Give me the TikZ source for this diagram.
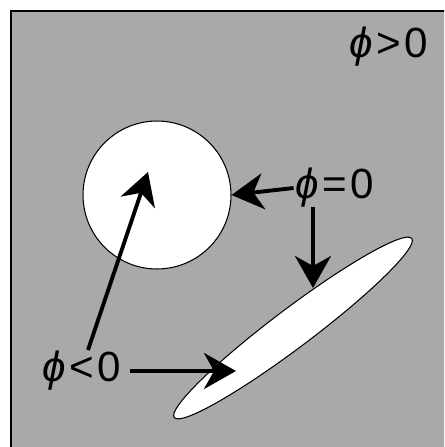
\documentclass[tikz,border=0pt]{standalone}
\usepackage{fontspec}
\setmainfont{Liberation Sans}
\usetikzlibrary{arrows.meta,positioning,shapes.geometric}
\definecolor{fieldgray}{RGB}{169,169,169}

\begin{document}
\begin{tikzpicture}[
    x=0.02cm, y=-0.02cm,
    region/.style={draw=black, line width=0.6pt, fill=white},
    line/.style={-{Stealth[length=0.64cm, width=0.72cm, inset=0.2cm]}, line width=2.2pt, draw=black},
    labelstyle/.style={font=\fontsize{24}{26}\selectfont, inner sep=0pt}
]
    \useasboundingbox (0,0) rectangle (444,447);
    % Background field
    \begin{scope}
        \clip (0,0) rectangle (444,447);
        \draw[fill=fieldgray, line width=1.6pt] (11,11) rectangle (460,460);
    \end{scope}

    % Regions where phi < 0
    \node[region, circle, minimum size=2.96cm, inner sep=0pt] (disk) at (157,195) {};
    \node[region, ellipse, rotate=37, minimum width=5.95cm, minimum height=0.78cm, inner sep=0pt] (blob) at (293,328) {};

    % Labels
    \node[labelstyle] (phipos) at (389,47) {\textit{ϕ}\kern2pt>\kern2pt0};
    \node[labelstyle] (phizero) at (335,188) {\textit{ϕ}\kern2pt=\kern2pt0};
    \node[labelstyle] (phineg) at (82,371) {\textit{ϕ}\kern2pt<\kern2pt0};

    % Arrow ends
    \coordinate (zerodown) at (313,207);
    \coordinate (blobedge) at (313,288);
    \coordinate (negup) at (88,350);
    \coordinate (diskin) at (148,172);
    \coordinate (blobin) at (236,371);

    % Connections
    \draw[line] ([xshift=-1pt]phizero.west) -- (disk.east);
    \draw[line] (zerodown) -- (blobedge);
    \draw[line] (negup) -- (diskin);
    \draw[line] ([xshift=5pt]phineg.east) -- (blobin);
\end{tikzpicture}
\end{document}
